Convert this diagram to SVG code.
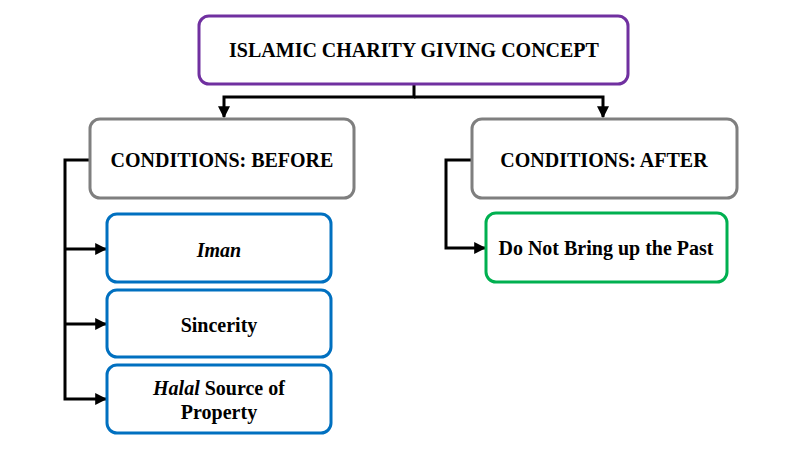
<svg xmlns="http://www.w3.org/2000/svg" width="800" height="450" viewBox="0 0 800 450">
<defs>
<marker id="ah" viewBox="0 0 10 10" refX="9" refY="5" markerWidth="4" markerHeight="4" orient="auto" markerUnits="strokeWidth">
<path d="M0,0 L10,5 L0,10 z" fill="#000"/>
</marker>
<style>
.box{fill:#fff;stroke-width:3}
.t{font-family:"Liberation Serif","Times New Roman",serif;font-weight:bold;font-size:20px;fill:#000;text-anchor:middle}
.c{fill:none;stroke:#000;stroke-width:3}
</style>
</defs>
<rect width="800" height="450" fill="#fff"/>
<g id="connectors">
<polyline class="c" points="414,84 414,97 224,97 224,117" marker-end="url(#ah)"/>
<polyline class="c" points="414,97 603,97 603,117" marker-end="url(#ah)"/>
<polyline class="c" points="90,160 65,160 65,399 106,399" marker-end="url(#ah)"/>
<polyline class="c" points="65,249 106,249" marker-end="url(#ah)"/>
<polyline class="c" points="65,324 106,324" marker-end="url(#ah)"/>
<polyline class="c" points="472,160 446,160 446,248 485,248" marker-end="url(#ah)"/>
</g>
<g id="root">
<rect class="box" x="199" y="16" width="429" height="68" rx="10" stroke="#7030A0"/>
<text class="t" x="414" y="57">ISLAMIC CHARITY GIVING CONCEPT</text>
</g>
<g id="before">
<rect class="box" x="90" y="119" width="264" height="79" rx="10" stroke="#7F7F7F"/>
<text class="t" x="222" y="167">CONDITIONS: BEFORE</text>
</g>
<g id="after">
<rect class="box" x="472" y="119" width="265" height="79" rx="10" stroke="#7F7F7F"/>
<text class="t" x="604" y="167">CONDITIONS: AFTER</text>
</g>
<g id="iman">
<rect class="box" x="107" y="214" width="224" height="68" rx="10" stroke="#0070C0"/>
<text class="t" x="219" y="257" font-style="italic">Iman</text>
</g>
<g id="sincerity">
<rect class="box" x="107" y="290" width="224" height="67" rx="10" stroke="#0070C0"/>
<text class="t" x="219" y="332">Sincerity</text>
</g>
<g id="halal">
<rect class="box" x="107" y="365" width="224" height="68" rx="10" stroke="#0070C0"/>
<text class="t" x="219" y="395"><tspan font-style="italic">Halal</tspan> Source of</text>
<text class="t" x="219" y="419">Property</text>
</g>
<g id="past">
<rect class="box" x="486" y="213" width="241" height="69" rx="10" stroke="#00B050"/>
<text class="t" x="606" y="255">Do Not Bring up the Past</text>
</g>
</svg>
